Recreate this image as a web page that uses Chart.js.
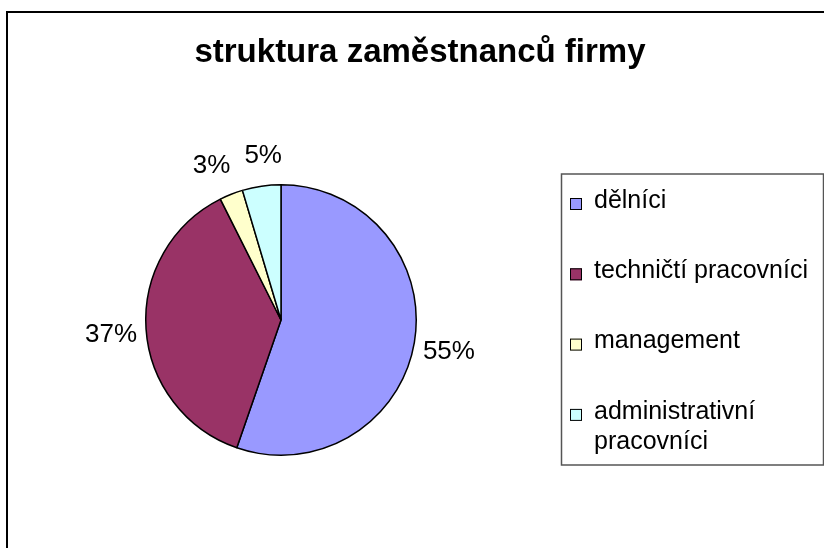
<!DOCTYPE html>
<html>
<head>
<meta charset="utf-8">
<script src="https://cdn.jsdelivr.net/npm/chart.js@4/dist/chart.umd.min.js"></script>
<style>
    html, body { margin: 0; padding: 0; background: #fff; }
    #wrap { width: 824px; height: 548px; }
</style>
</head>
<body>
<div id="wrap"><canvas id="pieChart" width="824" height="548"></canvas></div>
<script>
// Chart data
const chartTitle = 'struktura zaměstnanců firmy';
const categories = ['dělníci', 'techničtí pracovníci', 'management', 'administrativní pracovníci'];
const shares = [55.3, 37.3, 2.8, 4.6];
const sliceColors = ['#9999FF', '#993366', '#FFFFCC', '#CCFFFF'];

const FONT = '"Liberation Sans", Arial, sans-serif';

// Split a label into lines that fit maxWidth
function wrapText(ctx, text, maxWidth) {
    const words = text.split(' ');
    const lines = [];
    let line = '';
    words.forEach(word => {
        const test = line ? line + ' ' + word : word;
        if (line && ctx.measureText(test).width > maxWidth) {
            lines.push(line);
            line = word;
        } else {
            line = test;
        }
    });
    if (line) lines.push(line);
    return lines;
}

// Draws frame, title, percent labels and the legend box
const excelLook = {
    id: 'excelLook',
    afterDraw(chart) {
        const ctx = chart.ctx;
        ctx.save();

        // outer frame
        ctx.strokeStyle = '#000';
        ctx.lineWidth = 2;
        ctx.strokeRect(7, 12, 840, 560);

        // title
        ctx.fillStyle = '#000';
        ctx.font = 'bold 33px ' + FONT;
        ctx.textAlign = 'center';
        ctx.textBaseline = 'alphabetic';
        ctx.fillText(chartTitle, 420, 62);

        // percent labels outside the slices
        const total = shares.reduce((a, b) => a + b, 0);
        const arcs = chart.getDatasetMeta(0).data;
        ctx.font = '26px ' + FONT;
        ctx.textBaseline = 'middle';
        const labels = arcs.map((arc, i) => {
            const mid = (arc.startAngle + arc.endAngle) / 2;
            const r = arc.outerRadius + 35;
            const text = Math.round(shares[i] / total * 100) + '%';
            return {
                text: text,
                x: arc.x + Math.cos(mid) * r,
                y: arc.y + Math.sin(mid) * r + 4,
                w: ctx.measureText(text).width
            };
        });
        // keep neighbouring labels apart
        const minGap = 14;
        for (let i = 0; i < labels.length; i++) {
            const a = labels[i], b = labels[(i + 1) % labels.length];
            if (Math.abs(a.y - b.y) > 22) continue;
            const left = a.x < b.x ? a : b, right = a.x < b.x ? b : a;
            const gap = (right.x - right.w / 2) - (left.x + left.w / 2);
            if (gap < minGap) {
                left.x -= (minGap - gap) / 2;
                right.x += (minGap - gap) / 2;
            }
        }
        labels.forEach(l => ctx.fillText(l.text, l.x, l.y));

        // legend box
        const lx = 561, ly = 174, lw = 262, lh = 291;
        ctx.strokeStyle = '#555';
        ctx.lineWidth = 1.5;
        ctx.strokeRect(lx + 0.5, ly, lw, lh);

        ctx.font = '25px ' + FONT;
        ctx.textAlign = 'left';
        const rowStep = 70.3;
        categories.forEach((name, i) => {
            const cy = ly + 30 + i * rowStep;
            ctx.fillStyle = sliceColors[i];
            ctx.fillRect(570, cy - 6, 12, 12);
            ctx.strokeStyle = '#000';
            ctx.lineWidth = 1;
            ctx.strokeRect(570.5, cy - 5.5, 11, 11);
            ctx.fillStyle = '#000';
            const lines = wrapText(ctx, name, 224);
            lines.forEach((ln, k) => {
                ctx.fillText(ln, 594, cy - 3 + k * 30);
            });
        });

        ctx.restore();
    }
};

const ctx = document.getElementById('pieChart').getContext('2d');
new Chart(ctx, {
    type: 'pie',
    data: {
        labels: categories,
        datasets: [{
            data: shares,
            backgroundColor: sliceColors,
            borderColor: '#000',
            borderWidth: 1.5
        }]
    },
    options: {
        responsive: false,
        animation: false,
        layout: {
            padding: { left: 145, top: 184, right: 407, bottom: 92 }
        },
        plugins: {
            legend: { display: false },
            tooltip: { enabled: false }
        }
    },
    plugins: [excelLook]
});
</script>
</body>
</html>
